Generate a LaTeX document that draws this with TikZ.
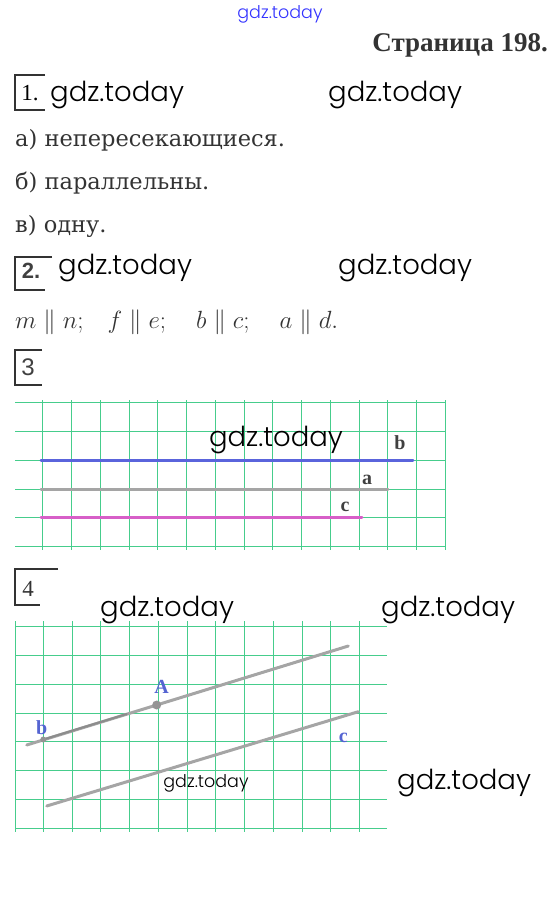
\documentclass[tikz,border=0pt]{standalone}
\usepackage{fontspec}
\setmainfont{Liberation Serif}
\newfontfamily\bodyfont{DejaVu Serif}
\newfontfamily\wmfont{Poppins}[UprightFont={* Light}]
\newfontfamily\numfont{Liberation Sans}
\definecolor{gridgreen}{RGB}{70,205,140}
\definecolor{lineblue}{RGB}{90,100,220}
\definecolor{linegray}{RGB}{165,165,165}
\definecolor{linepink}{RGB}{215,95,200}
\definecolor{labblue}{RGB}{85,100,210}

\begin{document}
\begin{tikzpicture}[x=1pt, y=-1pt,
   txt/.style={anchor=west, inner sep=0pt, font=\bodyfont\fontsize{22.5}{25}\selectfont, text=black!80},
   wm/.style={inner sep=0pt, font=\wmfont\fontsize{27.5}{29}\selectfont},
   wmsmall/.style={wm, font=\wmfont\fontsize{17.5}{19}\selectfont},
   bracket/.style={draw=black!80, line width=1.2pt},
   grid/.style={draw=gridgreen, line width=0.9pt},
   lab/.style={inner sep=0pt, font=\bfseries\fontsize{20}{22}\selectfont},
   seg/.style={line width=3pt, line cap=round}]
\useasboundingbox (0,0) rectangle (557,903);

% header
\node[wmsmall, text=blue!80] (w0) at (280,14) {gdz.today};
\node[anchor=east, inner sep=0pt, font=\bfseries\fontsize{27}{30}\selectfont, text=black!80] (title) at (548,45) {Страница 198.};

% 1
\draw[bracket] (45,75) -- (15,75) -- (15,110) -- (45,110);
\node[inner sep=0pt, font=\fontsize{23}{25}\selectfont] (n1) at (30,93) {1.};
\node[wm, anchor=west] (w1) at (50,95) {gdz.today};
\node[wm, anchor=west] (w2) at (328,95) {gdz.today};
\node[txt] (t1) at (15,140) {а) непересекающиеся.};
\node[txt] (t2) at (15,183) {б) параллельны.};
\node[txt] (t3) at (15,226) {в) одну.};

% 2
\draw[bracket] (52,257) -- (15,257) -- (15,290) -- (45,290);
\node[inner sep=0pt, font=\numfont\bfseries\fontsize{22}{24}\selectfont, text=black!75] (n2) at (31,271) {2.};
\node[wm, anchor=west] (w3) at (58,268) {gdz.today};
\node[wm, anchor=west] (w4) at (338,268) {gdz.today};
\node[txt, font=\fontsize{28}{30}\selectfont] (t4) at (15,322) {$m \parallel n;\hspace{20pt} f \parallel e;\hspace{26pt} b \parallel c;\hspace{26pt} a \parallel d.$};

% 3
\draw[bracket] (42,350) -- (15,350) -- (15,385) -- (42,385);
\node[inner sep=0pt, font=\numfont\fontsize{24}{26}\selectfont, text=black!75] (n3) at (28,367) {3};
\foreach \i in {0,...,5}
   \draw[grid] (15,402.7+\i*28.75) -- (445,402.7+\i*28.75);
\foreach \k in {0,...,14}
   \draw[grid] (42.7+\k*28.75,400) -- (42.7+\k*28.75,550);
\coordinate (b1) at (41,460);  \coordinate (b2) at (413,460);
\coordinate (a1) at (41,489);  \coordinate (a2) at (388,489);
\coordinate (c1) at (41,517.5); \coordinate (c2) at (362,517.5);
\draw[seg, lineblue] (b1) -- (b2);
\draw[seg, linegray] (a1) -- (a2);
\draw[seg, linepink] (c1) -- (c2);
\node[lab, text=black!75] (lb) at (400,443) {b};
\node[lab, text=black!75] (la) at (367,480) {a};
\node[lab, text=black!75] (lc) at (345,507) {c};
\node[wm] (w5) at (276,440) {gdz.today};

% 4
\draw[bracket] (58,569) -- (15,569) -- (15,605) -- (40,605);
\node[inner sep=0pt, font=\fontsize{23}{25}\selectfont, text=black!80] (n4) at (28,589) {4};
\node[wm, anchor=west] (w6) at (100,610) {gdz.today};
\node[wm, anchor=west] (w7) at (381,610) {gdz.today};
\foreach \i in {0,...,7}
   \draw[grid] (15,626.7+\i*28.8) -- (387,626.7+\i*28.8);
\draw[grid] (15,621) -- (15,832);
\foreach \k in {0,...,11}
   \draw[grid] (43.3+\k*28.75,621) -- (43.3+\k*28.75,832);
\coordinate (p1) at (26.7,745);  \coordinate (p2) at (348.3,646);
\coordinate (q1) at (46.7,806);  \coordinate (q2) at (358.3,711.7);
\coordinate (pA) at (156.7,705);
\coordinate (pb) at (43.3,739.5);
\draw[seg, linegray] (p1) -- (p2);
\draw[seg, linegray] (q1) -- (q2);
\draw[line width=2pt, line cap=round, black!45] (pb) -- (126.7,714);
\fill[linegray!90!black] (pA) circle (4.5);
\fill[linegray!90!black] (pb) circle (3);
\node[lab, text=labblue] (lA) at (161.7,687) {A};
\node[lab, text=labblue] (lb2) at (41.7,728) {b};
\node[lab, text=labblue] (lc2) at (343.3,738) {c};
\node[wmsmall] (w8) at (206,783) {gdz.today};
\node[wm, anchor=west] (w9) at (397,783) {gdz.today};
\end{tikzpicture}
\end{document}
